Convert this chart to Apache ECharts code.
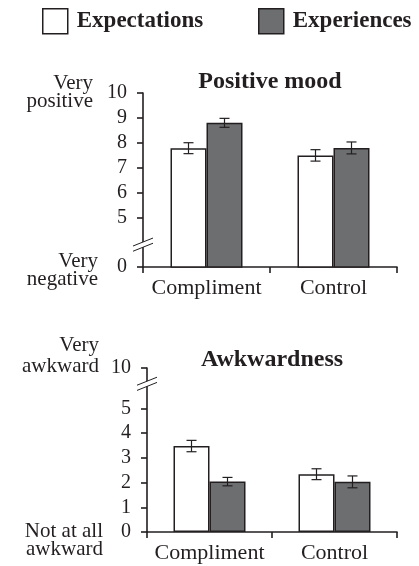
<!DOCTYPE html>
<html><head><meta charset="utf-8">
<script src="https://cdn.jsdelivr.net/npm/echarts@6/dist/echarts.min.js"></script>
<style>html,body{margin:0;padding:0;background:#fff}#c{width:419px;height:566px}</style>
</head><body><div id="c"></div>
<script>
// ---------- data ----------
const categories = ['Compliment', 'Control'];
const seriesNames = ['Expectations', 'Experiences'];
const panelTitles = ['Positive mood', 'Awkwardness'];

// Positive mood (0 = very negative, 10 = very positive)
const moodExpectations = [7.78, 7.49];
const moodExperiences = [8.80, 7.79];
const moodExpectationsErr = [0.22, 0.23];
const moodExperiencesErr = [0.18, 0.24];

// Awkwardness (0 = not at all, 10 = very awkward)
const awkExpectations = [3.48, 2.34];
const awkExperiences = [2.04, 2.03];
const awkExpectationsErr = [0.23, 0.22];
const awkExperiencesErr = [0.17, 0.24];

// tick labels (axes are broken)
const moodTickLabels = ['0', '5', '6', '7', '8', '9', '10'];
const awkTickLabels = ['0', '1', '2', '3', '4', '5', '10'];
// where the broken-off labels sit on the drawn scale
const moodBreak = { label: '0', at: 3, markAt: 3.9 };   // 0 drawn at axis position 3
const awkBreak = { label: '10', at: 6.64, markAt: 6.0 }; // 10 drawn at axis position 6.64

// ---------- style ----------
const INK = '#231f20';
const GREY = '#6d6e70';
const FONT = 'Liberation Serif, Times New Roman, serif';
const BAR_W = 36;

function tickValues(labels, brk) {
  return labels.map(l => l === brk.label ? brk.at : Number(l));
}
function labelFormatter(brk) {
  return v => (Math.abs(v - brk.at) < 1e-6 ? brk.label : String(v));
}

function errorBar(sign) {
  return function (params, api) {
    const x = api.value(0), v = api.value(1), e = api.value(2);
    const hi = api.coord([x, v + e]);
    const lo = api.coord([x, v - e]);
    const cx = hi[0] + sign * BAR_W / 2;
    const cap = 5;
    const st = { stroke: INK, lineWidth: 1.2 };
    return {
      type: 'group', children: [
        { type: 'line', shape: { x1: cx, y1: hi[1], x2: cx, y2: lo[1] }, style: st },
        { type: 'line', shape: { x1: cx - cap, y1: hi[1], x2: cx + cap, y2: hi[1] }, style: st },
        { type: 'line', shape: { x1: cx - cap, y1: lo[1], x2: cx + cap, y2: lo[1] }, style: st }
      ]
    };
  };
}

const grids = [
  { left: 143, right: 22, top: 93, height: 174 },
  { left: 147, right: 22, top: 368, height: 164 }
];

function xAxis(gi) {
  return {
    type: 'category', gridIndex: gi, data: categories,
    axisLine: { lineStyle: { color: INK, width: 1.6 } },
    axisTick: { show: true, length: 6, lineStyle: { color: INK, width: 1.6 } },
    axisLabel: { color: INK, fontFamily: FONT, fontSize: 22, margin: 10, interval: 0 }
  };
}
function yAxis(gi, min, max, labels, brk) {
  const vals = tickValues(labels, brk);
  return {
    type: 'value', gridIndex: gi, min: min, max: max,
    splitLine: { show: false },
    axisLine: { show: true, lineStyle: { color: INK, width: 1.6 } },
    axisTick: { show: true, length: 6, customValues: vals, lineStyle: { color: INK, width: 1.6 } },
    axisLabel: { color: INK, fontFamily: FONT, fontSize: 20, margin: 16,
      customValues: vals, formatter: labelFormatter(brk) }
  };
}

function barSeries(name, gi, data, isExp) {
  return {
    type: 'bar', name: name, xAxisIndex: gi, yAxisIndex: gi, data: data,
    barWidth: BAR_W, barGap: '0%', clip: true,
    itemStyle: { color: isExp ? '#ffffff' : GREY, borderColor: INK, borderWidth: 1.5 },
    emphasis: { disabled: true }
  };
}
function errSeries(gi, vals, errs, sign) {
  return {
    type: 'custom', xAxisIndex: gi, yAxisIndex: gi, z: 5,
    renderItem: errorBar(sign),
    data: vals.map((v, i) => [i, v, errs[i]])
  };
}

const legendCommon = {
  top: 8, padding: 0, icon: 'rect', itemWidth: 25, itemHeight: 25, selectedMode: false,
  textStyle: { color: INK, fontFamily: FONT, fontSize: 23, fontWeight: 'bold', padding: [0, 0, 0, 4] },
  itemStyle: { borderColor: INK, borderWidth: 1.5 }
};

const chart = echarts.init(document.getElementById('c'), null, { renderer: 'canvas' });
chart.setOption({
  animation: false,
  backgroundColor: '#fff',
  legend: [
    Object.assign({}, legendCommon, { left: 42, data: [seriesNames[0]] }),
    Object.assign({}, legendCommon, { left: 258, data: [seriesNames[1]] })
  ],
  grid: grids,
  xAxis: [xAxis(0), xAxis(1)],
  yAxis: [
    yAxis(0, moodBreak.at, 10, moodTickLabels, moodBreak),
    yAxis(1, 0, awkBreak.at, awkTickLabels, awkBreak)
  ],
  series: [
    barSeries(seriesNames[0], 0, moodExpectations, true),
    barSeries(seriesNames[1], 0, moodExperiences, false),
    barSeries(seriesNames[0], 1, awkExpectations, true),
    barSeries(seriesNames[1], 1, awkExperiences, false),
    errSeries(0, moodExpectations, moodExpectationsErr, -1),
    errSeries(0, moodExperiences, moodExperiencesErr, 1),
    errSeries(1, awkExpectations, awkExpectationsErr, -1),
    errSeries(1, awkExperiences, awkExperiencesErr, 1)
  ]
});

// axis break marks, side annotations and panel titles
function breakMark(gi, value) {
  const y = chart.convertToPixel({ yAxisIndex: gi }, value);
  const x = grids[gi].left;
  const dx = 8, dy = 3.2, gap = 2.6;
  return [
    { type: 'polygon', shape: { points: [[x - dx, y + dy - gap], [x + dx, y - dy - gap], [x + dx, y - dy + gap], [x - dx, y + dy + gap]] },
      style: { fill: '#fff' }, z: 100 },
    { type: 'line', shape: { x1: x - dx - 2, y1: y + dy - gap + 0.8, x2: x + dx + 2, y2: y - dy - gap - 0.8 }, style: { stroke: INK, lineWidth: 1 }, z: 101 },
    { type: 'line', shape: { x1: x - dx - 2, y1: y + dy + gap + 0.8, x2: x + dx + 2, y2: y - dy + gap - 0.8 }, style: { stroke: INK, lineWidth: 1 }, z: 101 }
  ];
}
function sideText(text, right, cy, lh) {
  return { type: 'text', z: 100, style: { text: text, x: right, y: cy, align: 'right', verticalAlign: 'middle',
    font: '21px ' + FONT, fill: INK, lineHeight: lh } };
}
function titleText(text, gi, cy) {
  const g = grids[gi];
  const cx = (g.left + (419 - g.right)) / 2;
  return { type: 'text', z: 100, style: { text: text, x: cx, y: cy, align: 'center', verticalAlign: 'middle',
    font: 'bold 24px ' + FONT, fill: INK } };
}

chart.setOption({
  graphic: [].concat(
    breakMark(0, moodBreak.markAt),
    breakMark(1, awkBreak.markAt),
    [
      sideText('Very\npositive', 93, 92, 18),
      sideText('Very\nnegative', 98, 270, 18),
      sideText('Very\nawkward', 99, 356, 21),
      sideText('Not at all\nawkward', 103, 540, 18),
      titleText(panelTitles[0], 0, 82),
      titleText(panelTitles[1], 1, 360)
    ]
  )
});
</script></body></html>
